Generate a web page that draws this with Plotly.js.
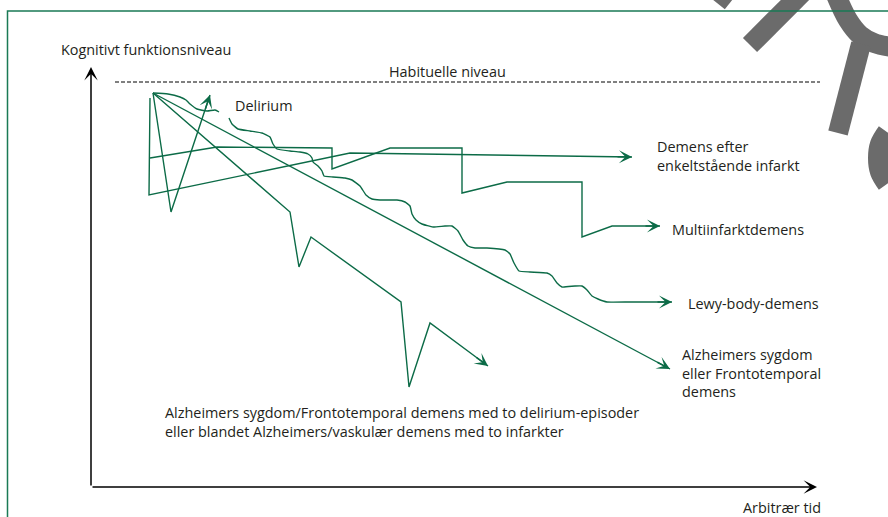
<!DOCTYPE html>
<html>
<head>
<meta charset="utf-8">
<script src="https://cdn.plot.ly/plotly-3.0.1.min.js"></script>
<style>html,body{margin:0;padding:0;background:#fff;}#chart{width:888px;height:517px;}</style>
</head>
<body>
<div id="chart"></div>
<script>
// Coordinates: x = arbitrary time units, y = depth below top (reversed axis)
const habitualX = [115, 820];
const habitualY = [82, 82];

const alzX = [153, 670];
const alzY = [93, 369];

const alzDelX = [153, 290, 299, 311, 401, 409, 430, 488];
const alzDelY = [93, 212, 267, 237, 302, 387, 323, 366];

const deliriumX = [153, 171, 210];
const deliriumY = [93, 212, 95];

const lewyStartX = [153, 168, 180, 186, 190, 197, 207, 215, 219];
const lewyStartY = [93, 94, 97, 100, 104, 109, 111, 110, 112];

const lewyX = [229,232,238,250,262,270,273,277,290,300,308,312,313,318,322,324,333,345,352,360,366,372,380,397,405,410,412,416,422,433,445,452,458,463,468,475,487,505,510,514,519,530,547,552,557,562,575,582,587,592,598,607,630,672];
const lewyY = [118,124,129,131,133,137,144,149,151,152,154,158,162,166,171,176,177,178,180,186,195,199,200,200,202,206,214,220,224,227,226,226,231,240,246,248,248,250,254,263,271,272,273,276,283,287,286,286,290,296,299,302,302,302];

const singleX = [150, 149, 350, 632];
const singleY = [98, 195, 153, 157];

const multiX = [150, 217, 332, 332, 390, 462, 462, 507, 582, 582, 612, 660];
const multiY = [158, 147, 148, 169, 148, 148, 193, 182, 182, 237, 226, 226];

const axisOrigin = [91, 487];
const yAxisTip = [91, 67];
const xAxisTip = [817, 487];

// decorative grey strokes
const g1X = [737, 717], g1Y = [-22, 3];
const g2X = [812, 750], g2Y = [-17, 45];
const g3X = [836, 848, 860, 874, 892], g3Y = [-5, 20, 35, 43, 47];
const g4X = [861, 838], g4Y = [44, 133];
const g5X = [887, 880, 878, 880, 887], g5Y = [184, 172, 158, 144, 132];

const labels = [
  {t: 'Kognitivt funktionsniveau', x: 59, y: 49},
  {t: 'Habituelle niveau', x: 387, y: 71},
  {t: 'Delirium', x: 233, y: 105},
  {t: 'Demens efter<br>enkeltstående infarkt', x: 655, y: 156},
  {t: 'Multiinfarktdemens', x: 670, y: 229},
  {t: 'Lewy-body-demens', x: 686, y: 303},
  {t: 'Alzheimers sygdom<br>eller Frontotemporal<br>demens', x: 680, y: 373},
  {t: 'Alzheimers sygdom/Frontotemporal demens med to delirium-episoder<br>eller blandet Alzheimers/vaskulær demens med to infarkter', x: 163, y: 422},
  {t: 'Arbitrær tid', x: 741, y: 507}
];

const GREEN = '#0c6b47';
const GREY = '#6b6b6b';

function line(x, y, color, width, extra) {
  return Object.assign({x: x, y: y, type: 'scatter', mode: 'lines', hoverinfo: 'skip',
    line: Object.assign({color: color, width: width}, extra || {})});
}

const traces = [
  line(g1X, g1Y, GREY, 20),
  line(g2X, g2Y, GREY, 20),
  line(g3X, g3Y, GREY, 20, {shape: 'spline'}),
  line(g4X, g4Y, GREY, 20),
  line(g5X, g5Y, GREY, 20, {shape: 'spline'}),
  line(habitualX, habitualY, '#000', 1, {dash: '4px,2px'}),
  line(alzX, alzY, GREEN, 1.4),
  line(alzDelX, alzDelY, GREEN, 1.4),
  line(deliriumX, deliriumY, GREEN, 1.4),
  line(lewyStartX, lewyStartY, GREEN, 1.4, {shape: 'spline', smoothing: 0.5}),
  line(lewyX, lewyY, GREEN, 1.4, {shape: 'spline', smoothing: 0.4}),
  line(singleX, singleY, GREEN, 1.4),
  line(multiX, multiY, GREEN, 1.4)
];

function arrowFor(xs, ys, color, size) {
  const n = xs.length;
  const dx = xs[n-1] - xs[n-2], dy = ys[n-1] - ys[n-2];
  const L = Math.sqrt(dx*dx + dy*dy);
  return {x: xs[n-1], y: ys[n-1], ax: xs[n-1] - dx / L * 16, ay: ys[n-1] - dy / L * 16,
    xref: 'x', yref: 'y', axref: 'x', ayref: 'y', text: '', showarrow: true,
    arrowhead: 3, arrowsize: size, arrowwidth: 1.5, arrowcolor: color, standoff: 0};
}

const annotations = [
  arrowFor(alzX, alzY, GREEN, 1.45),
  arrowFor(alzDelX, alzDelY, GREEN, 1.45),
  arrowFor(deliriumX, deliriumY, GREEN, 1.45),
  arrowFor(lewyX, lewyY, GREEN, 1.45),
  arrowFor(singleX, singleY, GREEN, 1.45),
  arrowFor(multiX, multiY, GREEN, 1.45),
  {x: yAxisTip[0], y: yAxisTip[1], ax: axisOrigin[0], ay: axisOrigin[1], xref: 'x', yref: 'y', axref: 'x', ayref: 'y',
   text: '', showarrow: true, arrowhead: 3, arrowsize: 1.5, arrowwidth: 1.5, arrowcolor: '#000', standoff: 0},
  {x: xAxisTip[0], y: xAxisTip[1], ax: axisOrigin[0], ay: axisOrigin[1], xref: 'x', yref: 'y', axref: 'x', ayref: 'y',
   text: '', showarrow: true, arrowhead: 3, arrowsize: 1.5, arrowwidth: 1.5, arrowcolor: '#000', standoff: 0}
];

labels.forEach(function(l) {
  annotations.push({x: l.x, y: l.y, xref: 'x', yref: 'y', text: l.t, showarrow: false,
    xanchor: 'left', yanchor: 'middle', align: 'left',
    font: {family: 'Open Sans, sans-serif', size: 14.4, color: '#231f20'}});
});

const layout = {
  width: 888, height: 517,
  margin: {l: 0, r: 0, t: 0, b: 0},
  paper_bgcolor: '#fff', plot_bgcolor: '#fff',
  showlegend: false,
  xaxis: {range: [0, 888], visible: false, fixedrange: true},
  yaxis: {range: [517, 0], visible: false, fixedrange: true},
  annotations: annotations,
  shapes: [
    {type: 'rect', xref: 'x', yref: 'y', x0: 7.5, x1: 900, y0: 11, y1: 530,
     line: {color: '#1a7a55', width: 1.5}, fillcolor: 'rgba(0,0,0,0)', layer: 'above'}
  ]
};

Plotly.newPlot('chart', traces, layout, {staticPlot: true, displayModeBar: false});
</script>
</body>
</html>
